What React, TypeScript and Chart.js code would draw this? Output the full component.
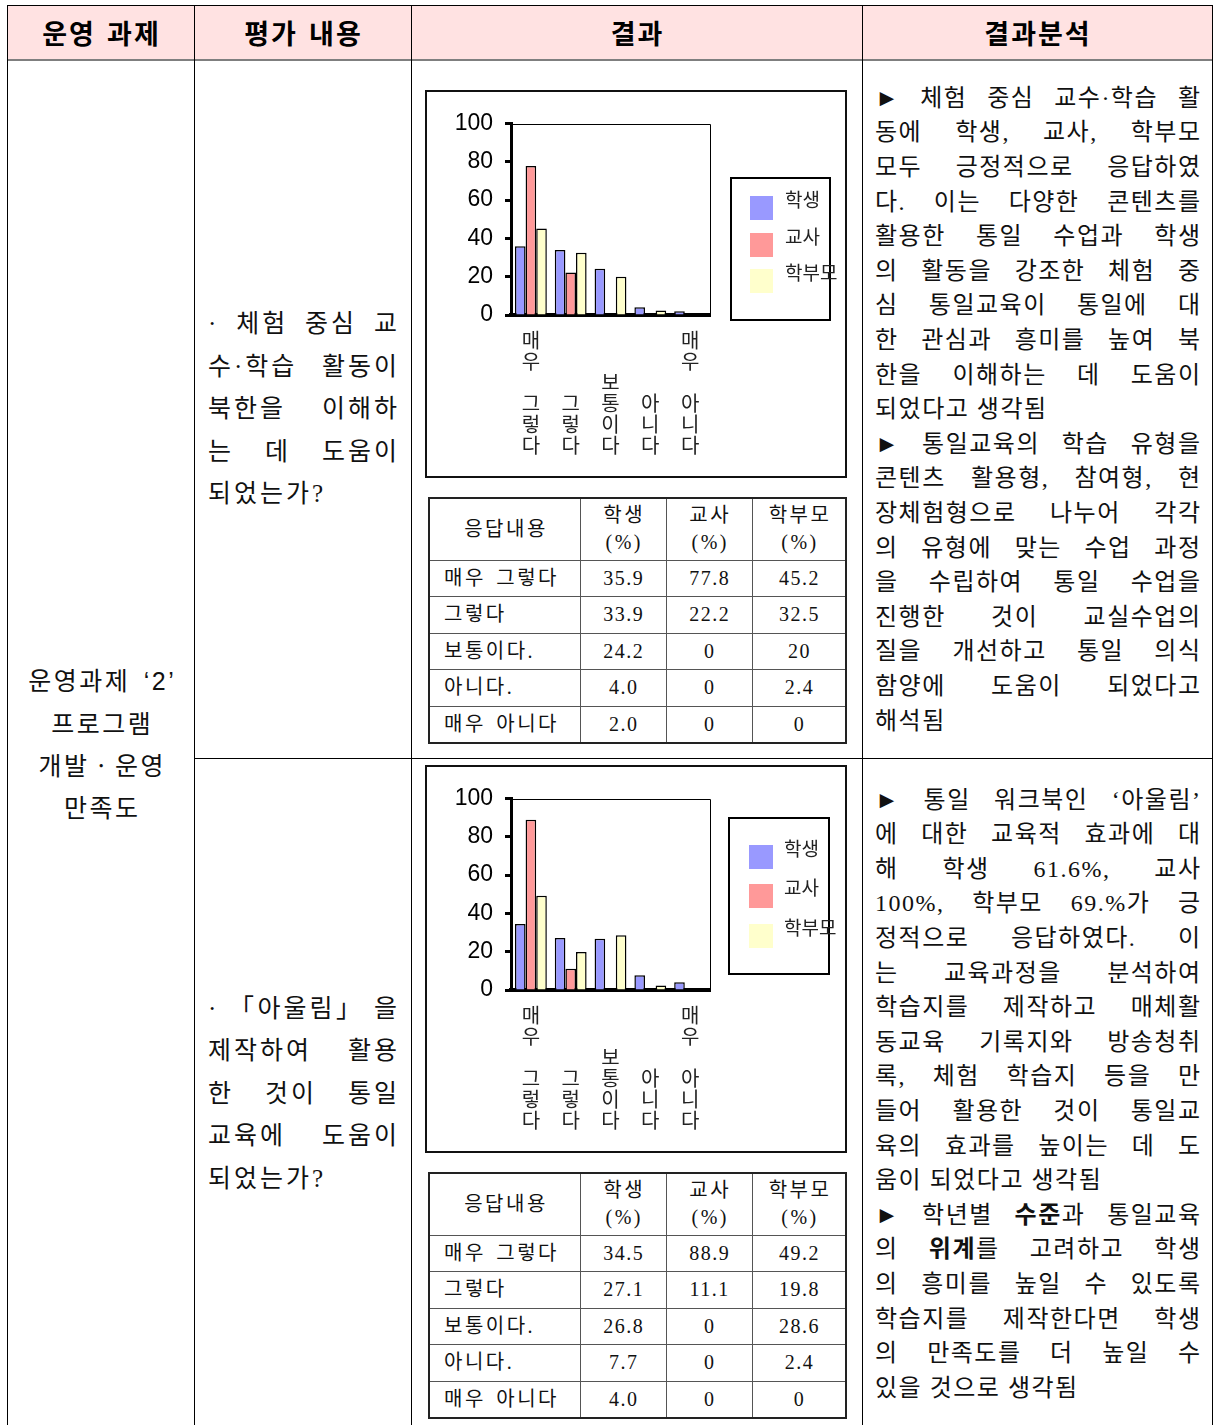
import React, { useEffect, useRef } from 'react';
import { Chart, registerables } from 'chart.js';

Chart.register(...registerables);

const FONT_KR = '"Noto Sans CJK KR", sans-serif';
const FONT_SANS = '"Liberation Sans", "Noto Sans CJK KR", sans-serif';
const FONT_BODY = '"Liberation Serif", "Noto Sans CJK KR", serif';

// ---------- data ----------
const headers = ['운영 과제', '평가 내용', '결과', '결과분석'];
const categories = ['매우 그렇다', '그렇다', '보통이다', '아니다', '매우 아니다'];
const tableRowLabels = ['매우 그렇다', '그렇다', '보통이다.', '아니다.', '매우 아니다'];
const seriesNames = ['학생', '교사', '학부모'];
const yTicks = [0, 20, 40, 60, 80, 100];

const chart1Student = [35.9, 33.9, 24.2, 4.0, 2.0];
const chart1Teacher = [77.8, 22.2, 0, 0, 0];
const chart1Parent = [45.2, 32.5, 20, 2.4, 0];

const chart2Student = [34.5, 27.1, 26.8, 7.7, 4.0];
const chart2Teacher = [88.9, 11.1, 0, 0, 0];
const chart2Parent = [49.2, 19.8, 28.6, 2.4, 0];

const taskLines = ['운영과제 ‘2’', '프로그램', '개발ㆍ운영', '만족도'];
const question1 = ['· 체험 중심 교', '수·학습 활동이', '북한을 이해하', '는 데 도움이', '되었는가?'];
const question2 = ['· 「아울림」 을', '제작하여 활용', '한 것이 통일', '교육에 도움이', '되었는가?'];

const analysis1 = [
  '► 체험 중심 교수·학습 활',
  '동에 학생, 교사, 학부모',
  '모두 긍정적으로 응답하였',
  '다. 이는 다양한 콘텐츠를',
  '활용한 통일 수업과 학생',
  '의 활동을 강조한 체험 중',
  '심 통일교육이 통일에 대',
  '한 관심과 흥미를 높여 북',
  '한을 이해하는 데 도움이',
  '되었다고 생각됨',
  '► 통일교육의 학습 유형을',
  '콘텐츠 활용형, 참여형, 현',
  '장체험형으로 나누어 각각',
  '의 유형에 맞는 수업 과정',
  '을 수립하여 통일 수업을',
  '진행한 것이 교실수업의',
  '질을 개선하고 통일 의식',
  '함양에 도움이 되었다고',
  '해석됨',
];
const analysis2 = [
  '► 통일 워크북인 ‘아울림’',
  '에 대한 교육적 효과에 대',
  '해 학생 61.6%, 교사',
  '100%, 학부모 69.%가 긍',
  '정적으로 응답하였다. 이',
  '는 교육과정을 분석하여',
  '학습지를 제작하고 매체활',
  '동교육 기록지와 방송청취',
  '록, 체험 학습지 등을 만',
  '들어 활용한 것이 통일교',
  '육의 효과를 높이는 데 도',
  '움이 되었다고 생각됨',
  '► 학년별 **수준**과 통일교육',
  '의 **위계**를 고려하고 학생',
  '의 흥미를 높일 수 있도록',
  '학습지를 제작한다면 학생',
  '의 만족도를 더 높일 수',
  '있을 것으로 생각됨',
];

// ---------- styles ----------
const COLORS = ['#9999FF', '#FF9999', '#FFFFCC'];
const COLS = [7, 194, 411, 862, 1212];

type LegendGeom = { x: number; y: number; w: number; h: number; sqX: number; sqW: number; sqH: number; itemY: number[]; textX: number };

const legend1: LegendGeom = { x: 303, y: 85, w: 101, h: 144, sqX: 323, sqW: 23, sqH: 24, itemY: [104, 141, 177], textX: 358 };
const legend2: LegendGeom = { x: 301, y: 50, w: 102, h: 158, sqX: 322, sqW: 24, sqH: 24, itemY: [78, 117, 157], textX: 357 };

function verticalLabel(s: string, lines: number): string[] {
  const chars = Array.from(s);
  while (chars.length < lines) chars.unshift('');
  return chars;
}

const framePlugin = {
  id: 'plotFrame',
  afterDatasetsDraw(chart: any) {
    const { ctx, chartArea } = chart;
    const { left, top, right, bottom } = chartArea;
    ctx.save();
    ctx.strokeStyle = '#000';
    ctx.lineWidth = 1;
    ctx.beginPath();
    ctx.moveTo(left, Math.round(top) + 0.5);
    ctx.lineTo(Math.round(right) + 0.5, Math.round(top) + 0.5);
    ctx.lineTo(Math.round(right) + 0.5, bottom);
    ctx.stroke();
    ctx.restore();
  },
};

function makeLegendPlugin(g: LegendGeom) {
  return {
    id: 'boxLegend',
    afterDraw(chart: any) {
      const ctx = chart.ctx;
      ctx.save();
      ctx.strokeStyle = '#000';
      ctx.lineWidth = 2;
      ctx.strokeRect(g.x + 1, g.y + 1, g.w - 2, g.h - 2);
      ctx.font = `19px ${FONT_KR}`;
      ctx.textBaseline = 'middle';
      ctx.textAlign = 'left';
      chart.data.datasets.forEach((ds: any, i: number) => {
        const y = g.itemY[i];
        ctx.fillStyle = ds.backgroundColor;
        ctx.fillRect(g.sqX, y, g.sqW, g.sqH);
        ctx.fillStyle = '#222';
        ctx.fillText(ds.label, g.textX, y + 4);
      });
      ctx.restore();
    },
  };
}

function BarChart({ series, legend }: { series: number[][]; legend: LegendGeom }) {
  const ref = useRef<HTMLCanvasElement>(null);
  useEffect(() => {
    const chart = new Chart(ref.current as HTMLCanvasElement, {
      type: 'bar',
      data: {
        labels: categories.map((c) => verticalLabel(c, 6)),
        datasets: seriesNames.map((name, i) => ({
          label: name,
          data: series[i],
          backgroundColor: COLORS[i],
          borderColor: '#000',
          borderWidth: 1.5,
          borderSkipped: 'start',
          categoryPercentage: 0.8,
          barPercentage: 1.0,
        })),
      },
      options: {
        responsive: false,
        animation: false,
        devicePixelRatio: 1,
        layout: { padding: { left: 10, right: 135, top: 31.5, bottom: 5 } },
        plugins: { legend: { display: false }, tooltip: { enabled: false } },
        scales: {
          x: {
            z: 1,
            grid: { display: false, drawTicks: false },
            border: { display: true, color: '#000', width: 4 },
            ticks: {
              color: '#222',
              font: { family: FONT_KR, size: 20, lineHeight: 1.05 },
              padding: 15,
              maxRotation: 0,
              minRotation: 0,
              autoSkip: false,
            },
          },
          y: {
            z: 1,
            min: 0,
            max: 100,
            afterBuildTicks: (scale: any) => {
              scale.ticks = yTicks.map((v) => ({ value: v }));
            },
            afterFit: (scale: any) => {
              scale.width = 74;
            },
            ticks: { color: '#000', font: { family: FONT_SANS, size: 23 }, padding: 12 },
            grid: { display: true, drawOnChartArea: false, drawTicks: true, tickLength: 6, tickWidth: 3, tickColor: '#000' },
            border: { display: true, color: '#000', width: 3 },
          },
        },
      } as any,
      plugins: [framePlugin, makeLegendPlugin(legend)],
    });
    return () => chart.destroy();
  }, []);
  return <canvas ref={ref} width={418} height={384} style={{ display: 'block', width: 418, height: 384 }} />;
}

function fmt(v: number, keepDecimal: boolean) {
  if (v === 0) return '0';
  return keepDecimal ? v.toFixed(1) : String(v);
}

function DataTable({ series, top }: { series: number[][]; top: number }) {
  const widths = [151, 86, 86, 94];
  const td: React.CSSProperties = {
    border: '1px solid #555',
    padding: 0,
    paddingLeft: 1.5,
    textAlign: 'center',
    verticalAlign: 'middle',
    fontFamily: FONT_BODY,
    fontSize: 20,
    letterSpacing: 1.5,
    color: '#111',
    lineHeight: '27px',
  };
  const tdKr: React.CSSProperties = { ...td, letterSpacing: 2.5, paddingLeft: 2.5 };
  return (
    <table
      style={{
        position: 'absolute',
        left: 428,
        top,
        width: 417,
        borderCollapse: 'collapse',
        tableLayout: 'fixed',
        border: '2px solid #222',
      }}
    >
      <colgroup>
        {widths.map((w, i) => (
          <col key={i} style={{ width: w }} />
        ))}
      </colgroup>
      <tbody>
        <tr style={{ height: 62 }}>
          <td style={tdKr}>응답내용</td>
          {seriesNames.map((n) => (
            <td key={n} style={tdKr}>
              {n}
              <br />
              (%)
            </td>
          ))}
        </tr>
        {tableRowLabels.map((lab, r) => (
          <tr key={lab} style={{ height: 36.5 }}>
            <td style={{ ...tdKr, textAlign: 'left', paddingLeft: 14, wordSpacing: 3 }}>{lab}</td>
            {series.map((s, i) => (
              <td key={i} style={td}>
                {fmt(s[r], i === 0)}
              </td>
            ))}
          </tr>
        ))}
      </tbody>
    </table>
  );
}

function renderRich(s: string) {
  return s.split('**').map((part, i) =>
    i % 2 ? (
      <b key={i} style={{ fontWeight: 700 }}>
        {part}
      </b>
    ) : (
      <React.Fragment key={i}>{part}</React.Fragment>
    )
  );
}

function JustifiedBlock({
  lines,
  left,
  top,
  width,
  height,
  lineHeight,
  fontSize,
  letterSpacing,
}: {
  lines: string[];
  left: number;
  top: number;
  width: number;
  height: number;
  lineHeight: number;
  fontSize: number;
  letterSpacing: number;
}) {
  return (
    <div
      style={{
        position: 'absolute',
        left,
        top,
        width,
        height,
        display: 'flex',
        flexDirection: 'column',
        justifyContent: 'center',
      }}
    >
      {lines.map((ln, i) => {
        const last = i === lines.length - 1 || lines[i + 1].startsWith('►');
        return (
          <div
            key={i}
            style={{
              fontFamily: FONT_BODY,
              fontSize,
              letterSpacing,
              lineHeight: `${lineHeight}px`,
              height: lineHeight,
              marginRight: -letterSpacing,
              textAlign: last ? 'left' : 'justify',
              textAlignLast: last ? 'left' : 'justify',
              textJustify: 'inter-word',
              color: '#111',
            } as React.CSSProperties}
          >
            {renderRich(ln)}
          </div>
        );
      })}
    </div>
  );
}

export default function App() {
  const line = (l: number, t: number, w: number, h: number, c = '#000') => (
    <div style={{ position: 'absolute', left: l, top: t, width: w, height: h, background: c }} />
  );
  return (
    <div
      style={{
        position: 'absolute',
        left: 0,
        top: 0,
        width: 1214,
        height: 1425,
        overflow: 'hidden',
        background: '#fff',
      }}
    >
      {/* header */}
      <div style={{ position: 'absolute', left: 7, top: 5, width: 1206, height: 54, background: '#FFE2E2' }} />
      {headers.map((h, i) => (
        <div
          key={h}
          style={{
            position: 'absolute',
            left: COLS[i] + 1,
            top: 5,
            width: COLS[i + 1] - COLS[i],
            height: 54,
            display: 'flex',
            alignItems: 'center',
            justifyContent: 'center',
            fontFamily: FONT_KR,
            fontWeight: 700,
            fontSize: 27,
            letterSpacing: 2,
            wordSpacing: 3,
            color: '#000',
          }}
        >
          {h}
        </div>
      ))}

      {/* grid lines */}
      {line(7, 5, 1206, 1)}
      {line(7, 59, 1206, 2, '#7f7f7f')}
      {COLS.map((x) => (
        <React.Fragment key={x}>{line(x, 5, 1, 1425)}</React.Fragment>
      ))}
      {line(194, 758, 1019, 1)}

      {/* column 1 */}
      <div
        style={{
          position: 'absolute',
          left: 8,
          top: 61,
          width: 186,
          height: 1368,
          display: 'flex',
          flexDirection: 'column',
          justifyContent: 'center',
          alignItems: 'center',
        }}
      >
        {taskLines.map((t) => (
          <div
            key={t}
            style={{
              fontFamily: FONT_SANS,
              fontSize: 25,
              letterSpacing: 2.5,
              wordSpacing: 4,
              paddingLeft: 2.5,
              lineHeight: '42.3px',
              color: '#111',
              whiteSpace: 'nowrap',
            }}
          >
            {t}
          </div>
        ))}
      </div>

      {/* column 2 */}
      <JustifiedBlock lines={question1} left={208} top={61} width={189} height={697} lineHeight={42.6} fontSize={25} letterSpacing={3} />
      <JustifiedBlock lines={question2} left={208} top={759} width={189} height={670} lineHeight={42.6} fontSize={25} letterSpacing={3} />

      {/* column 3 */}
      <div style={{ position: 'absolute', left: 425, top: 90, width: 422, height: 388, border: '2px solid #111', boxSizing: 'border-box' }}>
        <BarChart series={[chart1Student, chart1Teacher, chart1Parent]} legend={legend1} />
      </div>
      <DataTable series={[chart1Student, chart1Teacher, chart1Parent]} top={497} />

      <div style={{ position: 'absolute', left: 425, top: 765, width: 422, height: 388, border: '2px solid #111', boxSizing: 'border-box' }}>
        <BarChart series={[chart2Student, chart2Teacher, chart2Parent]} legend={legend2} />
      </div>
      <DataTable series={[chart2Student, chart2Teacher, chart2Parent]} top={1172} />

      {/* column 4 */}
      <JustifiedBlock lines={analysis1} left={875} top={61} width={325} height={697} lineHeight={34.6} fontSize={24} letterSpacing={1.5} />
      <JustifiedBlock lines={analysis2} left={875} top={759} width={325} height={670} lineHeight={34.6} fontSize={24} letterSpacing={1.5} />
    </div>
  );
}
